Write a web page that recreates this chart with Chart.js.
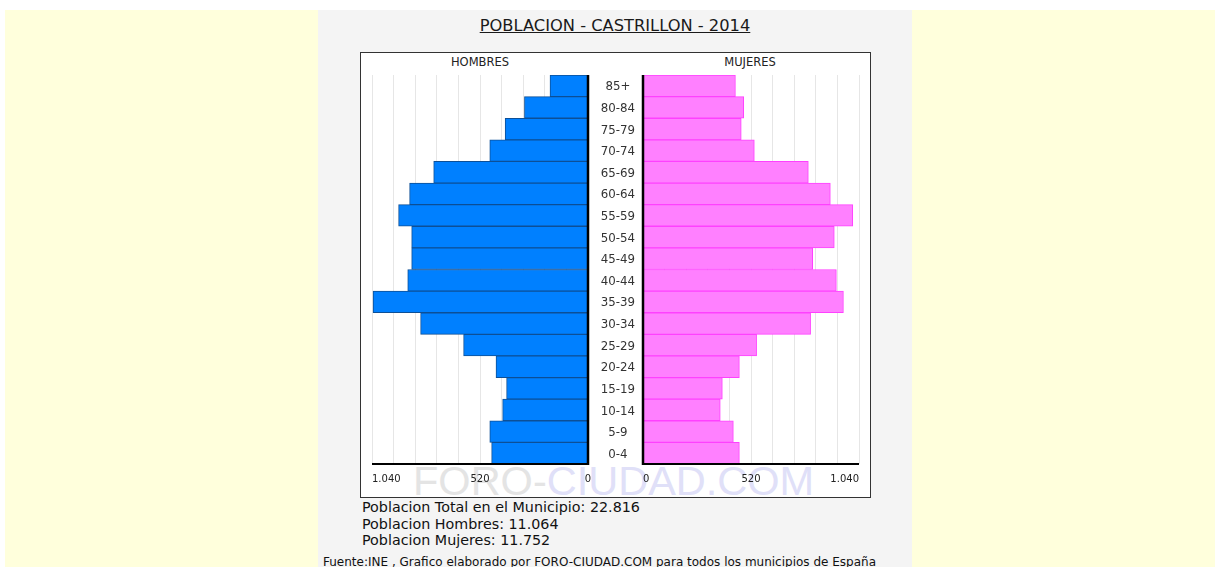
<!DOCTYPE html>
<html>
<head>
<meta charset="utf-8">
<script src="https://cdn.jsdelivr.net/npm/chart.js@4.4.1/dist/chart.umd.min.js"></script>
<style>
  html, body { margin: 0; padding: 0; background: #ffffff; width: 1220px; height: 567px; overflow: hidden; }
  body { position: relative; font-family: "DejaVu Sans", Verdana, sans-serif; }
  .abs { position: absolute; }
  #yellow { left: 5px; top: 10px; width: 1210px; height: 557px; background: #ffffdc; }
  #panel { left: 318px; top: 10px; width: 594px; height: 557px; background: #f4f4f4; }
  #title { left: 318px; top: 16px; width: 594px; text-align: center; font-size: 16.3px; line-height: 20px; color: #1a1a1a; }
  #title span { text-decoration: underline; }
  #box { left: 360px; top: 52px; width: 509px; height: 444px; background: #ffffff; border: 1px solid #333; }
  #wm { left: 413px; top: 460px; font-family: "Liberation Sans", Arial, sans-serif; font-size: 41.5px; line-height: 41.5px; white-space: nowrap; }
  .lbl { font-size: 11.5px; color: #222; line-height: 14px; text-align: center; width: 120px; }
  #stats { left: 362px; top: 499px; font-size: 14.3px; line-height: 16.5px; color: #111; white-space: nowrap; }
  #fuente { left: 323px; top: 555px; font-size: 12px; line-height: 14px; color: #111; white-space: nowrap; }
  canvas { position: absolute; }
</style>
</head>
<body>
<div id="yellow" class="abs"></div>
<div id="panel" class="abs"></div>
<div id="title" class="abs"><span>POBLACION - CASTRILLON - 2014</span></div>
<div id="box" class="abs"></div>
<div id="wm" class="abs"><span style="color:#e4e4e4">FORO-</span><span style="color:#e0e0f8">CIUDAD.COM</span></div>
<div class="abs lbl" style="left:420px; top:55px;">HOMBRES</div>
<div class="abs lbl" style="left:690px; top:55px;">MUJERES</div>
<canvas id="left" width="230" height="440" style="left:361px; top:54px;"></canvas>
<canvas id="right" width="280" height="440" style="left:590px; top:54px;"></canvas>
<div id="stats" class="abs">Poblacion Total en el Municipio: 22.816<br>Poblacion Hombres: 11.064<br>Poblacion Mujeres: 11.752</div>
<div id="fuente" class="abs">Fuente:INE , Grafico elaborado por FORO-CIUDAD.COM para todos los municipios de España</div>
<script>
// Data (top row to bottom row)
const ageGroups = ['85+','80-84','75-79','70-74','65-69','60-64','55-59','50-54','45-49','40-44','35-39','30-34','25-29','20-24','15-19','10-14','5-9','0-4'];
const hombres = [183,306,399,473,743,859,912,849,849,868,1035,806,599,443,392,411,473,464];
const mujeres = [445,485,473,536,796,902,1010,921,817,931,965,807,547,464,382,372,435,464];
const axisMax = 1040;
const axisStep = 104;
const tickValues = [0, 520, 1040];
const tickTexts = ['0', '520', '1.040'];

Chart.defaults.font.family = '"DejaVu Sans", Verdana, sans-serif';
Chart.defaults.color = '#222';

const axisLines = {
  id: 'axisLines',
  afterDatasetsDraw(chart, args, opts) {
    const ctx = chart.ctx, a = chart.chartArea, xs = chart.scales.x, x0 = xs.getPixelForValue(0);
    ctx.save();
    ctx.strokeStyle = '#000';
    ctx.lineWidth = 2.5;
    ctx.beginPath();
    ctx.moveTo(x0, a.top);
    ctx.lineTo(x0, a.bottom + 1);
    ctx.stroke();
    ctx.lineWidth = 2;
    ctx.beginPath();
    ctx.moveTo(a.left, a.bottom);
    ctx.lineTo(a.right, a.bottom);
    ctx.stroke();
    // tick labels
    ctx.fillStyle = '#222';
    ctx.font = '10px "DejaVu Sans", Verdana, sans-serif';
    ctx.textBaseline = 'middle';
    tickValues.forEach((v, i) => {
      ctx.textAlign = opts.align[i];
      ctx.fillText(tickTexts[i], xs.getPixelForValue(v), a.bottom + 15.5);
    });
    ctx.restore();
  }
};

function xScale(reverse) {
  return {
    type: 'linear', min: 0, max: axisMax, reverse: reverse,
    afterFit: s => { s.height = 30; },
    grid: {
      drawTicks: false,
      color: c => (c.tick && c.tick.value === 0) ? 'rgba(0,0,0,0)' : '#e6e6e6',
      lineWidth: 1
    },
    border: { display: false },
    ticks: { stepSize: axisStep, autoSkip: false, display: false }
  };
}

new Chart(document.getElementById('left'), {
  type: 'bar',
  data: { labels: ageGroups, datasets: [{ data: hombres, backgroundColor: '#0080ff', borderColor: '#0d4f96', borderWidth: 1, categoryPercentage: 1, barPercentage: 1 }] },
  options: {
    indexAxis: 'y', responsive: false, animation: false, devicePixelRatio: 1,
    layout: { padding: { left: 11, right: 3, top: 21, bottom: 0 } },
    plugins: { legend: { display: false }, tooltip: { enabled: false }, axisLines: { align: ['center', 'center', 'left'] } },
    scales: {
      x: xScale(true),
      y: { type: 'category', display: false }
    }
  },
  plugins: [axisLines]
});

new Chart(document.getElementById('right'), {
  type: 'bar',
  data: { labels: ageGroups, datasets: [{ data: mujeres, backgroundColor: '#ff80ff', borderColor: '#ff40ff', borderWidth: 1, categoryPercentage: 1, barPercentage: 1 }] },
  options: {
    indexAxis: 'y', responsive: false, animation: false, devicePixelRatio: 1,
    layout: { padding: { left: 0, right: 11, top: 21, bottom: 0 } },
    plugins: { legend: { display: false }, tooltip: { enabled: false }, axisLines: { align: ['left', 'center', 'right'] } },
    scales: {
      x: xScale(false),
      y: {
        type: 'category', position: 'left',
        afterFit: s => { s.width = 53; },
        grid: { display: false }, border: { display: false },
        ticks: { crossAlign: 'center', padding: 0, labelOffset: 1.5, font: { size: 11.8 }, color: '#333', autoSkip: false }
      }
    }
  },
  plugins: [axisLines]
});
</script>
</body>
</html>
